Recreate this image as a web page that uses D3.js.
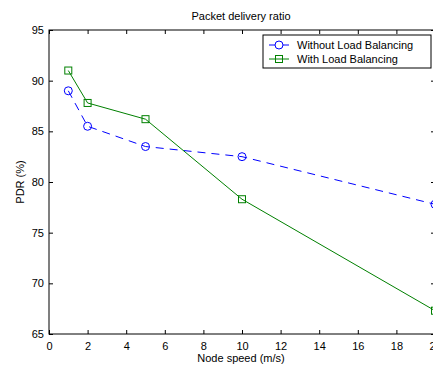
<!DOCTYPE html>
<html>
<head>
<meta charset="utf-8">
<script src="https://cdn.jsdelivr.net/npm/d3@7"></script>
<style>
  body { margin: 0; background: #fff; overflow: hidden; }
  svg { display: block; font-family: "Liberation Sans", Arial, sans-serif; }
</style>
</head>
<body>
<div id="chart"></div>
<script>
const WIDTH = 433;
const HEIGHT = 365;

// data
const speeds = [1, 2, 5, 10, 20];
const withoutLB = [89, 85.5, 83.5, 82.5, 77.8];
const withLB = [91, 87.8, 86.2, 78.3, 67.3];
const xTicks = [0, 2, 4, 6, 8, 10, 12, 14, 16, 18, 20];
const yTicks = [65, 70, 75, 80, 85, 90, 95];
const seriesNames = ["Without Load Balancing", "With Load Balancing"];

// the axes box runs a little past the right edge of the picture
const MARGIN = { TOP: 30, BOTTOM: 31, LEFT: 49, RIGHT: -2 };
const w = WIDTH - MARGIN.LEFT - MARGIN.RIGHT;
const h = HEIGHT - MARGIN.TOP - MARGIN.BOTTOM;

const svg = d3.select('#chart').append('svg')
    .attr('width', WIDTH)
    .attr('height', HEIGHT);

const g = svg.append('g')
    .attr('transform', `translate(${MARGIN.LEFT}, ${MARGIN.TOP})`);

const x = d3.scaleLinear().domain([0, 20]).range([0, w]);
const y = d3.scaleLinear().domain([65, 95]).range([h, 0]);

// ticks inward, on all four sides (matlab box)
const tickLen = 4;
g.append('g').attr('transform', `translate(0, ${h})`)
    .call(d3.axisBottom(x).tickValues(xTicks).tickSize(-tickLen).tickPadding(8))
    .call(a => a.select('.domain').remove());
g.append('g')
    .call(d3.axisTop(x).tickValues(xTicks).tickSize(-tickLen).tickFormat(''))
    .call(a => a.select('.domain').remove());
g.append('g')
    .call(d3.axisLeft(y).tickValues(yTicks).tickSize(-tickLen).tickPadding(5))
    .call(a => a.select('.domain').remove());
g.append('g').attr('transform', `translate(${w}, 0)`)
    .call(d3.axisRight(y).tickValues(yTicks).tickSize(-tickLen).tickFormat(''))
    .call(a => a.select('.domain').remove());

g.selectAll('.tick text').attr('font-size', 11).attr('fill', '#000')
    .attr('font-family', '"Liberation Sans", Arial, sans-serif');
g.selectAll('.tick line').attr('stroke', '#000');

g.append('rect')
    .attr('width', w).attr('height', h)
    .attr('fill', 'none').attr('stroke', '#000').attr('stroke-width', 1);

const series = [
    { name: seriesNames[0], values: withoutLB, color: '#0000ff', dash: '8,6', marker: 'circle' },
    { name: seriesNames[1], values: withLB, color: '#008000', dash: null, marker: 'square' }
];

const line = d3.line().x(d => x(d[0])).y(d => y(d[1]));

series.forEach(s => {
    const pts = speeds.map((v, i) => [v, s.values[i]]);
    const sg = g.append('g');
    sg.append('path')
        .attr('d', line(pts))
        .attr('fill', 'none')
        .attr('stroke', s.color)
        .attr('stroke-width', 1)
        .attr('stroke-dasharray', s.dash);
    if (s.marker === 'circle') {
        sg.selectAll('circle').data(pts).enter().append('circle')
            .attr('cx', d => x(d[0])).attr('cy', d => y(d[1])).attr('r', 4)
            .attr('fill', 'none').attr('stroke', s.color);
    } else {
        sg.selectAll('rect').data(pts).enter().append('rect')
            .attr('x', d => x(d[0]) - 3.5).attr('y', d => y(d[1]) - 3.5)
            .attr('width', 7).attr('height', 7)
            .attr('fill', 'none').attr('stroke', s.color);
    }
});

// legend
const lg = g.append('g').attr('transform', `translate(${263 - MARGIN.LEFT}, ${35 - MARGIN.TOP})`);
lg.append('rect').attr('width', 168).attr('height', 33)
    .attr('fill', '#fff').attr('stroke', '#000');
series.forEach((s, i) => {
    const ly = 10 + i * 14;
    lg.append('line').attr('x1', 6).attr('x2', 26).attr('y1', ly).attr('y2', ly)
        .attr('stroke', s.color);
    if (s.marker === 'circle') {
        lg.append('circle').attr('cx', 16).attr('cy', ly).attr('r', 4)
            .attr('fill', '#fff').attr('stroke', s.color);
    } else {
        lg.append('rect').attr('x', 12.5).attr('y', ly - 3.5).attr('width', 7).attr('height', 7)
            .attr('fill', 'none').attr('stroke', s.color);
    }
    lg.append('text').attr('x', 34).attr('y', ly + 4)
        .attr('font-size', 11).text(s.name);
});

// titles
svg.append('text').attr('x', 241).attr('y', 20)
    .attr('text-anchor', 'middle').attr('font-size', 11).text('Packet delivery ratio');
svg.append('text').attr('x', 241).attr('y', 362)
    .attr('text-anchor', 'middle').attr('font-size', 11).text('Node speed (m/s)');
svg.append('text')
    .attr('transform', `translate(24, ${MARGIN.TOP + h / 2}) rotate(-90)`)
    .attr('text-anchor', 'middle').attr('font-size', 11).text('PDR (%)');
</script>
</body>
</html>
